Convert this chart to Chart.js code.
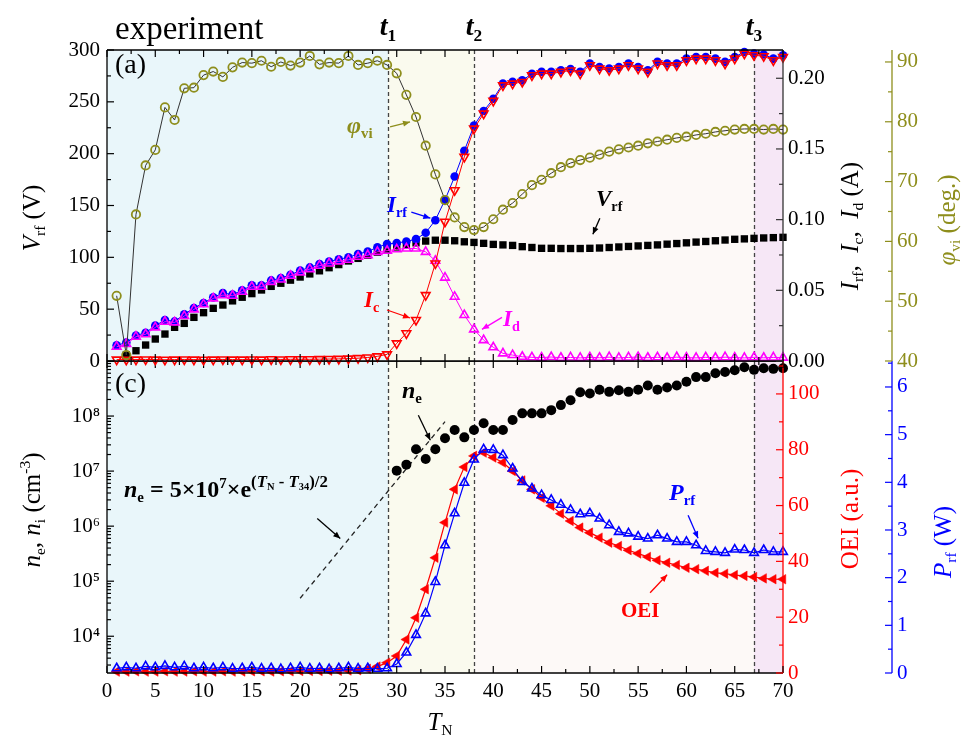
<!DOCTYPE html>
<html>
<head>
<meta charset="utf-8">
<title>experiment</title>
<script src="https://cdn.jsdelivr.net/npm/chart.js@4.4.1/dist/chart.umd.min.js"></script>
<style>
  body { margin: 0; background: #fff; }
  #fig { position: relative; width: 962px; height: 736px; overflow: hidden; font-family: 'Liberation Serif', 'Times New Roman', serif; }
  #fig canvas { position: absolute; left: 0; }
  .lb { position: absolute; white-space: nowrap; line-height: 1; }
  .rot { transform: translate(-50%, -50%) rotate(-90deg); }
  .ctr { transform: translateX(-50%); }
  .lb sub, .lb sup { font-size: 0.62em; line-height: 0; position: relative; vertical-align: baseline; }
  .lb sub { top: 0.32em; }
  .lb sup { top: -0.62em; }
  .lb sup.big { font-size: 0.7em; }
  .bi { font-weight: bold; }
  .bi i { font-style: italic; }
</style>
</head>
<body>
<div id="fig">
  <canvas id="botChart" width="962" height="396" style="top:340px;width:962px;height:396px"></canvas>
  <canvas id="topChart" width="962" height="376" style="top:0;width:962px;height:376px"></canvas>

  <div class="lb" style="left:115px;top:12px;font-size:33px">experiment</div>
  <div class="lb ctr bi tlab" style="top:12px;font-size:28px"><i>t</i><sub>1</sub></div>
  <div class="lb ctr bi tlab" style="top:12px;font-size:28px"><i>t</i><sub>2</sub></div>
  <div class="lb ctr bi tlab" style="top:12px;font-size:28px"><i>t</i><sub>3</sub></div>

  <div class="lb" style="left:115px;top:50px;font-size:28px">(a)</div>
  <div class="lb" style="left:115px;top:369px;font-size:28px">(c)</div>

  <div class="lb bi" style="left:347px;top:113px;font-size:24px;color:#8e8e1c"><i>φ</i><sub>vi</sub></div>
  <div class="lb bi" style="left:387px;top:193px;font-size:23px;color:#0000ff"><i>I</i><sub>rf</sub></div>
  <div class="lb bi" style="left:364px;top:288px;font-size:23px;color:#ff0000"><i>I</i><sub>c</sub></div>
  <div class="lb bi" style="left:503px;top:307px;font-size:23px;color:#ff00ff"><i>I</i><sub>d</sub></div>
  <div class="lb bi" style="left:596px;top:187px;font-size:23px;color:#000"><i>V</i><sub>rf</sub></div>

  <div class="lb bi" style="left:402px;top:378px;font-size:24px"><i>n</i><sub>e</sub></div>
  <div class="lb bi" style="left:124px;top:477px;font-size:24px"><i>n</i><sub>e</sub> = 5×10<sup>7</sup>×e<sup class="big">(<i>T</i><sub>N</sub> - <i>T</i><sub>34</sub>)/2</sup></div>
  <div class="lb bi" style="left:669px;top:480px;font-size:24px;color:#0000ff"><i>P</i><sub>rf</sub></div>
  <div class="lb bi" style="left:621px;top:600px;font-size:21px;color:#ff0000">OEI</div>

  <div class="lb rot" style="left:31px;top:218px;font-size:25px"><i>V</i><sub>rf</sub> (V)</div>
  <div class="lb rot" style="left:31px;top:510px;font-size:25px"><i>n</i><sub>e</sub>, <i>n</i><sub>i</sub> (cm<sup>-3</sup>)</div>
  <div class="lb rot" style="left:849px;top:226px;font-size:25px"><i>I</i><sub>rf</sub>,&nbsp; <i>I</i><sub>c</sub>,&nbsp; <i>I</i><sub>d</sub> (A)</div>
  <div class="lb rot" style="left:946px;top:220px;font-size:25px;color:#8e8e1c"><i>φ</i><sub>vi</sub> (deg.)</div>
  <div class="lb rot" style="left:849px;top:519px;font-size:25px;color:#ff0000">OEI (a.u.)</div>
  <div class="lb rot" style="left:942px;top:542px;font-size:25px;color:#0000ff"><i>P</i><sub>rf</sub> (W)</div>
  <div class="lb ctr" style="left:440px;top:709px;font-size:25px"><i>T</i><sub>N</sub></div>
</div>

<script>
// T_N steps
var tN = [1,2,3,4,5,6,7,8,9,10,11,12,13,14,15,16,17,18,19,20,
          21,22,23,24,25,26,27,28,29,30,31,32,33,34,35,36,37,38,39,40,
          41,42,43,44,45,46,47,48,49,50,51,52,53,54,55,56,57,58,59,60,
          61,62,63,64,65,66,67,68,69,70];

// panel (a)
var phiVi = [50.9,41.0,64.5,72.7,75.3,82.4,80.3,85.6,85.7,87.8,
             88.4,87.5,89.1,89.9,89.8,90.2,89.2,90.0,89.4,89.9,
             91.0,89.6,89.9,89.8,91.0,89.5,89.8,90.2,89.5,88.1,
             84.5,80.8,76.0,71.2,66.9,64.0,62.4,61.9,62.4,63.7,
             65.3,66.4,67.9,69.4,70.3,71.4,72.4,73.1,73.6,74.0,
             74.5,75.0,75.4,75.7,76.0,76.4,76.7,77.0,77.3,77.5,
             77.8,78.0,78.3,78.5,78.7,78.8,78.8,78.7,78.8,78.7];
var vRf = [null,5.8,9.9,15.4,21.2,26,32.5,36.3,42.1,46.6,
           50.8,54,58,61.5,65,68.5,72,75,78,81,
           84,87,90,93,96.5,99,102,105,108,110,
           112,114,115.7,116.5,116.5,116,115,114.4,113.5,112.5,
           112,111.5,110.3,109.5,108.7,108.7,108.5,108.5,108.5,108.7,
           109,109.5,110,110.5,111,111.5,112,112.7,113.3,114,
           114.7,115.3,116,116.7,117.4,117.8,118.3,118.7,119,119.3];
var iRf = [0.0111,0.013,0.018,0.02,0.025,0.029,0.028,0.033,0.0375,0.041,
           0.045,0.048,0.047,0.05,0.0535,0.0535,0.057,0.0587,0.061,0.064,
           0.0662,0.0686,0.0704,0.072,0.0733,0.0757,0.0774,0.0805,0.0827,0.0835,
           0.0845,0.0862,0.0907,0.0996,0.114,0.1305,0.1487,0.1665,0.1768,0.1855,
           0.1962,0.1975,0.1985,0.2032,0.2045,0.2045,0.2057,0.2066,0.2046,0.2104,
           0.208,0.2069,0.208,0.2104,0.208,0.2057,0.2116,0.2104,0.2104,0.2139,
           0.2151,0.2151,0.2139,0.2116,0.2151,0.2186,0.2175,0.2168,0.2139,0.2162];
var iC = [0.001,0.0009,0.001,0.0011,0.001,0.0009,0.001,0.0011,0.001,0.0009,
          0.001,0.0011,0.001,0.001,0.0011,0.001,0.0012,0.0011,0.0012,0.0012,
          0.0012,0.0013,0.0014,0.0015,0.0017,0.002,0.0025,0.0033,0.0047,0.0125,
          0.0196,0.029,0.0466,0.069,0.0985,0.1208,0.1444,0.1644,0.175,0.184,
          0.195,0.1962,0.1974,0.2021,0.2033,0.2033,0.2045,0.2055,0.2033,0.2092,
          0.2068,0.2057,0.2068,0.2092,0.2068,0.2045,0.2104,0.2092,0.2092,0.2127,
          0.2139,0.2139,0.2127,0.2104,0.2139,0.2174,0.2163,0.2156,0.2127,0.215];
var iD = [0.0101,0.012,0.0172,0.0189,0.0238,0.0278,0.0273,0.0318,0.0365,0.0401,
          0.0443,0.0466,0.0462,0.049,0.0525,0.0525,0.056,0.0577,0.0603,0.0627,
          0.065,0.0674,0.069,0.0705,0.0716,0.0737,0.0749,0.0772,0.078,0.079,
          0.0796,0.0796,0.0772,0.0709,0.059,0.0454,0.0325,0.0224,0.0148,0.0097,
          0.0054,0.0042,0.003,0.0026,0.0024,0.0028,0.0023,0.0025,0.0022,0.0026,
          0.0023,0.0027,0.0022,0.0025,0.0028,0.0023,0.0026,0.0022,0.0027,0.0024,
          0.0022,0.0026,0.0023,0.0027,0.0024,0.0022,0.0026,0.0023,0.0025,0.0024];

// panel (c)
var neT = [30,31,32,33,34,35,36,37,38,39,40,41,42,43,44,45,46,47,48,49,
           50,51,52,53,54,55,56,57,58,59,60,61,62,63,64,65,66,67,68,69,70];
var nE = [1.02e7,1.31e7,2.5e7,1.66e7,2.5e7,3.96e7,5.6e7,4.1e7,5.6e7,7.4e7,
          5.6e7,5.6e7,8.5e7,1.12e8,1.12e8,1.12e8,1.28e8,1.58e8,1.94e8,2.7e8,
          2.57e8,3.0e8,2.75e8,2.95e8,2.75e8,3.0e8,3.6e8,3.0e8,3.3e8,3.6e8,
          4.2e8,5.1e8,5.1e8,6.0e8,6.3e8,6.8e8,7.7e8,6.9e8,7.4e8,7.2e8,7.4e8];
var fitT = [20, 35];
var fitN = [4.9e4, 7.9e7];
var oei = [0.5,0.5,0.6,0.5,0.5,0.6,0.5,0.5,0.6,0.5,
           0.5,0.6,0.5,0.5,0.6,0.6,0.5,0.6,0.6,0.7,
           0.7,0.7,0.8,0.8,0.9,1.0,1.5,2.3,3.7,6.1,
           12,19.8,30,41.3,53.9,65.8,73.8,77.8,79,77.2,
           75.4,72.4,69,65.8,62.8,59.9,57.1,54.5,52.1,50.3,
           48.5,46.7,45.5,44,42.8,41.6,40.4,39.5,38.7,37.7,
           37.2,36.6,35.9,35.6,35.1,34.8,34.4,33.9,33.6,33.6];
var pRf = [0.1,0.12,0.1,0.14,0.12,0.15,0.12,0.14,0.1,0.12,
           0.1,0.12,0.09,0.1,0.12,0.09,0.1,0.08,0.1,0.12,
           0.09,0.1,0.08,0.1,0.12,0.09,0.1,0.09,0.1,0.19,
           0.43,0.8,1.25,1.91,2.68,3.35,3.99,4.48,4.69,4.68,
           4.57,4.29,4.01,3.87,3.73,3.63,3.53,3.42,3.33,3.35,
           3.24,3.1,2.96,2.93,2.86,2.82,2.89,2.82,2.75,2.75,
           2.68,2.56,2.54,2.52,2.59,2.58,2.52,2.58,2.54,2.54];

// ticks and phase marks
var xTicks = [0,5,10,15,20,25,30,35,40,45,50,55,60,65,70];
var vTicks = [0,50,100,150,200,250,300];
var iTicks = [0,0.05,0.1,0.15,0.2];
var phiTicks = [40,50,60,70,80,90];
var nTicks = [1e4,1e5,1e6,1e7,1e8];
var oeiTicks = [0,20,40,60,80,100];
var pTicks = [0,1,2,3,4,5,6];
var tMarks = [29.1, 38, 67];
var phaseEdges = [0, 29.1, 38, 67, 70];


var OLIVE = '#8e8e1c', RED = '#ff0000', BLUE = '#0000ff', MAG = '#ff00ff';
var phaseColors = ['#e9f6fa', '#fafaee', '#fdf9f7', '#f6e7f6'];
var tickFont = { family: "'Liberation Serif', serif", size: 21 };
var supDigits = { 3: '³', 4: '⁴', 5: '⁵', 6: '⁶', 7: '⁷', 8: '⁸', 9: '⁹' };

function pts(xs, ys) {
    return xs.map(function (x, i) { return { x: x, y: ys[i] }; })
             .filter(function (p) { return p.y !== null; });
}

function steps(a, b, st) {
    var out = [];
    for (var v = a; v <= b + 1e-9; v += st) out.push(+v.toFixed(6));
    return out;
}

function fixTicks(list) {
    return function (s) { s.ticks = list.map(function (v) { return { value: v }; }); };
}

function fitBox(w, h) {
    return function (s) {
        if (w !== null) s.width = w;
        if (h !== null) s.height = h;
        s.paddingTop = 0; s.paddingBottom = 0; s.paddingLeft = 0; s.paddingRight = 0;
    };
}

function yAxis(pos, min, max, list, w, color, fmt, weight) {
    return {
        type: 'linear', position: pos, min: min, max: max, weight: weight,
        grid: { display: false, drawTicks: false }, border: { display: false },
        afterBuildTicks: fixTicks(list), afterFit: fitBox(w, null),
        ticks: { font: tickFont, color: color, padding: pos === 'left' ? 7 : 5, autoSkip: false, callback: fmt }
    };
}

function seg(ctx, x1, y1, x2, y2, c, w) {
    ctx.strokeStyle = c; ctx.lineWidth = w;
    ctx.beginPath(); ctx.moveTo(x1, y1); ctx.lineTo(x2, y2); ctx.stroke();
}

function xMarks(ctx, sc, vals, y, dir, len) {
    vals.forEach(function (v) { var p = sc.getPixelForValue(v); seg(ctx, p, y, p, y + dir * len, '#000', 1.2); });
}

function yMarks(ctx, sc, vals, x, dir, len, c) {
    vals.forEach(function (v) {
        if (v < sc.min || v > sc.max) return;
        var p = sc.getPixelForValue(v); seg(ctx, x, p, x + dir * len, p, c, 1.2);
    });
}

function arrow(ctx, x1, y1, x2, y2, c) {
    seg(ctx, x1, y1, x2, y2, c, 1.3);
    var a = Math.atan2(y2 - y1, x2 - x1), L = 7, W = 3;
    ctx.fillStyle = c;
    ctx.beginPath();
    ctx.moveTo(x2, y2);
    ctx.lineTo(x2 - L * Math.cos(a) + W * Math.sin(a), y2 - L * Math.sin(a) - W * Math.cos(a));
    ctx.lineTo(x2 - L * Math.cos(a) - W * Math.sin(a), y2 - L * Math.sin(a) + W * Math.cos(a));
    ctx.closePath(); ctx.fill();
}

// arrow whose tip sits next to a data point: off = tip offset, tail = tail offset from tip
function pointer(chart, yId, x, y, off, tail, c) {
    var px = chart.scales.x.getPixelForValue(x) + off[0];
    var py = chart.scales[yId].getPixelForValue(y) + off[1];
    arrow(chart.ctx, px + tail[0], py + tail[1], px, py, c);
}

function drawPhases(chart) {
    var ctx = chart.ctx, a = chart.chartArea, x = chart.scales.x;
    ctx.save();
    for (var i = 0; i < phaseColors.length; i++) {
        var x0 = x.getPixelForValue(phaseEdges[i]), x1 = x.getPixelForValue(phaseEdges[i + 1]);
        ctx.fillStyle = phaseColors[i];
        ctx.fillRect(x0, a.top, x1 - x0, a.bottom - a.top);
    }
    ctx.setLineDash([4, 3]);
    tMarks.forEach(function (t) {
        var px = Math.round(x.getPixelForValue(t)) + 0.5;
        seg(ctx, px, a.top, px, a.bottom, '#444', 1.3);
    });
    ctx.restore();
}

var xMinor = steps(2.5, 70, 5);

var topDecor = {
    id: 'topDecor',
    beforeDatasetsDraw: function (chart) { drawPhases(chart); },
    afterDatasetsDraw: function (chart) {
        var ctx = chart.ctx, a = chart.chartArea, s = chart.scales;
        ctx.save();
        seg(ctx, a.left, a.top, a.right, a.top, '#000', 1.3);
        seg(ctx, a.left, a.bottom, a.right, a.bottom, '#000', 1.3);
        seg(ctx, a.left, a.top, a.left, a.bottom, '#000', 1.3);
        seg(ctx, a.right, a.top, a.right, a.bottom, '#333', 1.3);
        xMarks(ctx, s.x, xTicks, a.top, 1, 7);
        xMarks(ctx, s.x, xMinor, a.top, 1, 4);
        xMarks(ctx, s.x, xTicks, a.bottom, -1, 7);
        xMarks(ctx, s.x, xMinor, a.bottom, -1, 4);
        yMarks(ctx, s.yV, vTicks, a.left, 1, 7, '#000');
        yMarks(ctx, s.yV, steps(25, 300, 50), a.left, 1, 4, '#000');
        yMarks(ctx, s.yI, iTicks, a.right, -1, 7, '#333');
        yMarks(ctx, s.yI, steps(0.025, 0.22, 0.05), a.right, -1, 4, '#333');
        var xp = s.yPhi.left;
        seg(ctx, xp, a.top, xp, a.bottom, OLIVE, 1.3);
        yMarks(ctx, s.yPhi, phiTicks, xp, -1, 7, OLIVE);
        yMarks(ctx, s.yPhi, steps(45, 92, 10), xp, -1, 4, OLIVE);

        pointer(chart, 'yPhi', 32, phiVi[31], [-6, 5], [-20, 5], OLIVE);
        pointer(chart, 'yI', 34, iRf[33], [-5, -2], [-19, -6], BLUE);
        pointer(chart, 'yI', 32, iC[31], [-6, -2], [-23, -8], RED);
        pointer(chart, 'yI', 38, iD[37], [8, 0], [20, -12], MAG);
        pointer(chart, 'yV', 50, vRf[49], [3, -14], [7, -16], '#000');
        ctx.restore();
    }
};

var botDecor = {
    id: 'botDecor',
    beforeDatasetsDraw: function (chart) { drawPhases(chart); },
    afterDatasetsDraw: function (chart) {
        var ctx = chart.ctx, a = chart.chartArea, s = chart.scales;
        ctx.save();
        seg(ctx, a.left, a.top, a.right, a.top, '#000', 1.3);
        seg(ctx, a.left, a.bottom, a.right, a.bottom, '#000', 1.3);
        seg(ctx, a.left, a.top, a.left, a.bottom, '#000', 1.3);
        seg(ctx, a.right, a.top, a.right, a.bottom, RED, 1.3);
        xMarks(ctx, s.x, xTicks, a.top, 1, 7);
        xMarks(ctx, s.x, xMinor, a.top, 1, 4);
        xMarks(ctx, s.x, xTicks, a.bottom, -1, 7);
        xMarks(ctx, s.x, xMinor, a.bottom, -1, 4);
        yMarks(ctx, s.yN, nTicks, a.left, 1, 7, '#000');
        var minorN = [];
        for (var d = 3; d <= 8; d++) for (var m = 2; m <= 9; m++) minorN.push(m * Math.pow(10, d));
        yMarks(ctx, s.yN, minorN, a.left, 1, 4, '#000');
        yMarks(ctx, s.yOEI, oeiTicks, a.right, -1, 7, RED);
        yMarks(ctx, s.yOEI, steps(10, 111, 20), a.right, -1, 4, RED);
        var xp = s.yP.left;
        seg(ctx, xp, a.top, xp, a.bottom, BLUE, 1.3);
        yMarks(ctx, s.yP, pTicks, xp, -1, 7, BLUE);
        yMarks(ctx, s.yP, steps(0.5, 6.5, 1), xp, -1, 4, BLUE);

        pointer(chart, 'yN', 34, nE[4], [-5, -9], [-12, -25], '#000');
        // arrow to the fitted line, placed about a quarter of the way along it
        var p0x = s.x.getPixelForValue(fitT[0]), p0y = s.yN.getPixelForValue(fitN[0]);
        var p1x = s.x.getPixelForValue(fitT[1]), p1y = s.yN.getPixelForValue(fitN[1]);
        var fx = p0x + (p1x - p0x) * 0.27 + 1, fy = p0y + (p1y - p0y) * 0.27 - 12;
        arrow(ctx, fx - 23, fy - 20, fx, fy, '#000');
        pointer(chart, 'yP', 61, pRf[60], [2, -7], [-10, -23], BLUE);
        pointer(chart, 'yOEI', 58, oei[57], [0, 12], [-17, 18], RED);
        ctx.restore();
    }
};

var common = {
    responsive: false, animation: false, devicePixelRatio: 1,
    plugins: { legend: { display: false }, tooltip: { enabled: false } },
    elements: { line: { tension: 0 } }
};

var topChart = new Chart(document.getElementById('topChart'), {
    type: 'scatter',
    data: {
        datasets: [
            { data: pts(tN, vRf), yAxisID: 'yV', pointStyle: 'rect', pointRadius: 5.2,
              pointBackgroundColor: '#000', pointBorderWidth: 0, showLine: false, order: 6, clip: false },
            { data: pts(tN, iRf), yAxisID: 'yI', pointStyle: 'circle', pointRadius: 4.3,
              pointBackgroundColor: BLUE, pointBorderColor: BLUE, pointBorderWidth: 0,
              borderColor: BLUE, borderWidth: 1, showLine: true, order: 5, clip: false },
            { data: pts(tN, iD), yAxisID: 'yI', pointStyle: 'triangle', pointRadius: 5,
              pointBackgroundColor: 'rgba(0,0,0,0)', pointBorderColor: MAG, pointBorderWidth: 1.6,
              borderColor: MAG, borderWidth: 1, showLine: true, order: 4, clip: false },
            { data: pts(tN, iC), yAxisID: 'yI', pointStyle: 'triangle', pointRotation: 180, pointRadius: 5,
              pointBackgroundColor: 'rgba(0,0,0,0)', pointBorderColor: RED, pointBorderWidth: 1.6,
              borderColor: RED, borderWidth: 1, showLine: true, order: 3, clip: false },
            { data: pts(tN, phiVi), yAxisID: 'yPhi', pointStyle: 'circle', pointRadius: 4.2,
              pointBackgroundColor: 'rgba(0,0,0,0)', pointBorderColor: OLIVE, pointBorderWidth: 1.8,
              borderColor: '#333', borderWidth: 1, showLine: true, order: 1, clip: false }
        ]
    },
    options: Object.assign({}, common, {
        layout: { padding: { top: 50, left: 0, right: 0, bottom: 0 } },
        scales: {
            x: { type: 'linear', min: 0, max: 70, grid: { display: false, drawTicks: false },
                 border: { display: false }, ticks: { display: false }, afterFit: fitBox(null, 15) },
            yV: yAxis('left', 0, 300, vTicks, 107, '#000', function (v) { return String(v); }, 0),
            yI: yAxis('right', 0, 0.22, iTicks, 109, '#000', function (v) { return v.toFixed(2); }, 0),
            yPhi: yAxis('right', 40, 92, phiTicks, 70, OLIVE, function (v) { return String(v); }, 1)
        }
    }),
    plugins: [topDecor]
});

var botChart = new Chart(document.getElementById('botChart'), {
    type: 'scatter',
    data: {
        datasets: [
            { data: pts(fitT, fitN), yAxisID: 'yN', pointRadius: 0, showLine: true,
              borderColor: '#222', borderWidth: 1.3, borderDash: [5, 4], order: 5 },
            { data: pts(tN, oei), yAxisID: 'yOEI', pointStyle: 'triangle', pointRotation: -90, pointRadius: 5.5,
              pointBackgroundColor: RED, pointBorderColor: RED, pointBorderWidth: 0.5,
              borderColor: RED, borderWidth: 1.2, showLine: true, order: 3, clip: false },
            { data: pts(tN, pRf), yAxisID: 'yP', pointStyle: 'triangle', pointRadius: 5,
              pointBackgroundColor: 'rgba(0,0,0,0)', pointBorderColor: BLUE, pointBorderWidth: 1.6,
              borderColor: BLUE, borderWidth: 1.2, showLine: true, order: 2, clip: false },
            { data: pts(neT, nE), yAxisID: 'yN', pointStyle: 'circle', pointRadius: 5,
              pointBackgroundColor: '#000', pointBorderWidth: 0, showLine: false, order: 1, clip: false }
        ]
    },
    options: Object.assign({}, common, {
        layout: { padding: { top: 21, left: 0, right: 0, bottom: 0 } },
        scales: {
            x: { type: 'linear', min: 0, max: 70, grid: { display: false, drawTicks: false },
                 border: { display: false }, afterBuildTicks: fixTicks(xTicks), afterFit: fitBox(null, 63),
                 ticks: { font: tickFont, color: '#000', padding: 6, autoSkip: false, maxRotation: 0 } },
            yN: { type: 'logarithmic', position: 'left', min: 2150, max: 1e9,
                  grid: { display: false, drawTicks: false }, border: { display: false },
                  afterBuildTicks: fixTicks(nTicks), afterFit: fitBox(107, null),
                  ticks: { font: tickFont, color: '#000', padding: 7, autoSkip: false,
                           callback: function (v) { return '10' + supDigits[Math.round(Math.log10(v))]; } } },
            yOEI: yAxis('right', 0, 111.8, oeiTicks, 109, RED, function (v) { return String(v); }, 0),
            yP: yAxis('right', 0, 6.545, pTicks, 70, BLUE, function (v) { return String(v); }, 1)
        }
    }),
    plugins: [botDecor]
});

// t1, t2, t3 labels above the dashed lines
var tLabs = document.querySelectorAll('.tlab');
for (var k = 0; k < tLabs.length; k++) {
    tLabs[k].style.left = topChart.scales.x.getPixelForValue(tMarks[k]) + 'px';
}
</script>
</body>
</html>
